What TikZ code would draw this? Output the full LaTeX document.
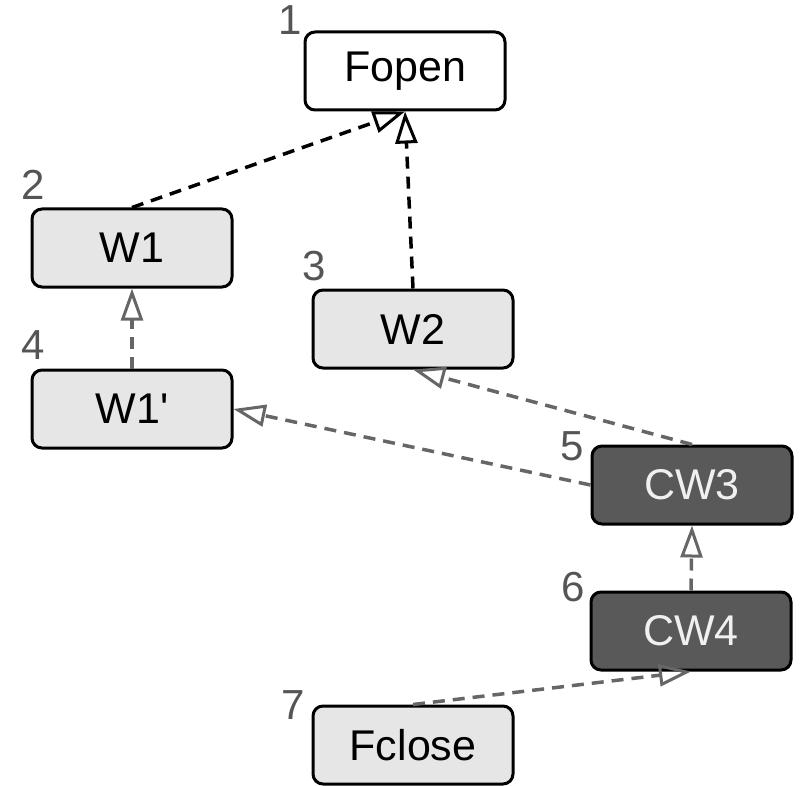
\documentclass[tikz,border=0pt]{standalone}
\usepackage{fontspec}
\setmainfont{Liberation Sans}
\usetikzlibrary{arrows.meta}
\definecolor{boxlight}{HTML}{E6E6E6}
\definecolor{boxdark}{HTML}{595959}
\definecolor{numgray}{HTML}{555555}
\definecolor{edgegray}{HTML}{666666}
\tikzset{
  box/.style={draw=black, line width=3pt, rounded corners=10pt, minimum width=200pt,
    minimum height=78pt, inner sep=0pt, font=\fontsize{43}{47}\selectfont},
  lightbox/.style={box, fill=boxlight},
  darkbox/.style={box, fill=boxdark, text=white!94!black},
  num/.style={text=numgray, inner sep=0pt, font=\fontsize{42}{46}\selectfont},
  dep/.style={dashed, dash pattern=on 12pt off 8pt, line width=3.5pt,
    -{Triangle[open, length=32pt, width=22pt, line width=3pt]}},
  blackdep/.style={dep, draw=black},
  graydep/.style={dep, draw=edgegray}
}
\begin{document}
\begin{tikzpicture}[x=1pt, y=-1pt]
   \useasboundingbox (0,0) rectangle (800,786);
   \node[box, fill=white] (fopen) at (405,71) {Fopen};
   \node[lightbox] (w1) at (132,248) {W1};
   \node[lightbox] (w2) at (413,329) {W2};
   \node[lightbox] (w1p) at (132,409) {W1\textquotesingle};
   \node[darkbox] (cw3) at (692,485) {CW3};
   \node[darkbox] (cw4) at (691,631) {CW4};
   \node[lightbox] (fclose) at (413,745) {Fclose};
   \node[num] (n1) at (290,20) {1};
   \node[num] (n2) at (33,185) {2};
   \node[num] (n3) at (314,266) {3};
   \node[num] (n4) at (33,345) {4};
   \node[num] (n5) at (572,446) {5};
   \node[num] (n6) at (573,587) {6};
   \node[num] (n7) at (293,705) {7};
   \draw[blackdep] (w1.north) -- (fopen.south);
   \draw[blackdep] (w2.north) -- (fopen.south);
   \draw[graydep] (w1p.north) -- (w1.south);
   \draw[graydep] (cw3.north) -- (w2.south);
   \draw[graydep] (cw3.west) -- (w1p.east);
   \draw[graydep] (cw4.north) -- (cw3.south);
   \draw[graydep] (fclose.north) -- (cw4.south);
\end{tikzpicture}
\end{document}
